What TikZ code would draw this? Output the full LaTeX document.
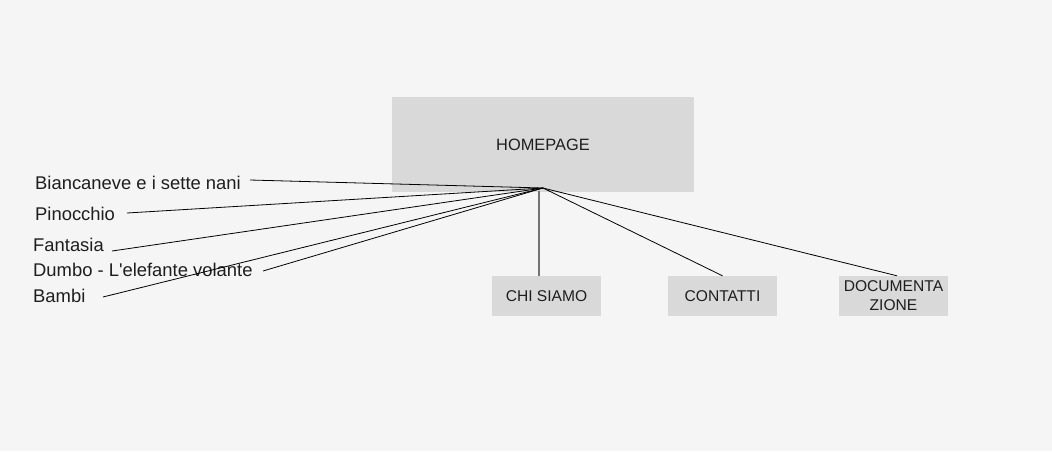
\documentclass[tikz,border=0pt]{standalone}
\usepackage{fontspec}
\setmainfont{Liberation Sans}
\definecolor{bg}{HTML}{F5F5F5}
\definecolor{boxfill}{HTML}{D9D9D9}
\definecolor{ink}{HTML}{1E1E1E}
\tikzset{
  page/.style={fill=boxfill, draw=none, inner sep=0pt, text=ink, align=center},
  menu/.style={page, minimum width=109pt, minimum height=40pt, font=\fontsize{15.6}{19}\selectfont},
  film/.style={anchor=base west, inner sep=0pt, text=ink, font=\fontsize{18.4}{22}\selectfont},
  link/.style={black, line width=0.8pt},
  stem/.style={black!55, line width=1.3pt},
}
\begin{document}
\begin{tikzpicture}[x=1pt,y=-1pt]
\fill[bg] (0,0) rectangle (1052,451);
\useasboundingbox (0,0) rectangle (1052,451);

% Homepage
\node[page, minimum width=302pt, minimum height=95pt, font=\fontsize{16.4}{20}\selectfont] (home) at (543,144.5) {HOMEPAGE};
\coordinate (hub) at (543,188);

% Films
\node[film] (bianca) at (35,189) {Biancaneve e i sette nani};
\node[film] (pino) at (35,220) {Pinocchio};
\node[film] (fanta) at (33,251) {Fantasia};
\node[film] (dumbo) at (33,276.5) {Dumbo - L\textquotesingle elefante volante};
\node[film] (bambi) at (33,302.5) {Bambi};

\coordinate (bianca-end) at (250,180);
\coordinate (pino-end) at (127,213);
\coordinate (fanta-end) at (112,251);
\coordinate (dumbo-end) at (263,271);
\coordinate (bambi-end) at (103,297);

% Menu
\node[menu] (chi) at (546.5,296) {CHI SIAMO};
\node[menu] (contatti) at (722.5,296) {CONTATTI};
\node[menu, font=\fontsize{15.6}{19}\selectfont] (docu) at (893.5,296) {DOCUMENTA\\ZIONE};

% Links
\foreach \e in {bianca-end, pino-end, fanta-end, dumbo-end, bambi-end} {
    \draw[link] (hub) -- (\e);
}
\coordinate (drop) at (539,191);
\draw[stem] (drop) -- (drop |- chi.north);
\draw[link] (hub) -- (contatti.north);
\draw[link] (hub) -- ([xshift=3.5pt]docu.north);

\end{tikzpicture}
\end{document}
